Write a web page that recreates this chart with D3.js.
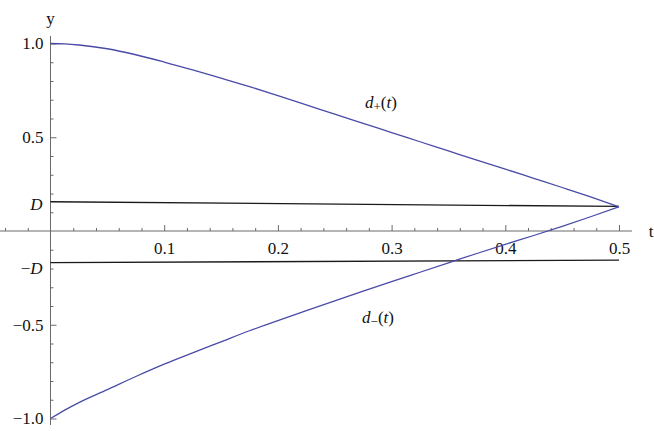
<!DOCTYPE html>
<html>
<head>
<meta charset="utf-8">
<script src="https://cdn.jsdelivr.net/npm/d3@7"></script>
<style>
  body { margin: 0; background: #fff; }
  svg { display: block; }
  text { font-family: "Liberation Serif", "DejaVu Serif", serif; font-size: 17px; fill: #111; }
</style>
</head>
<body>
<svg id="chart" width="654" height="431"></svg>
<script>
/*
 * Data
 */
var T_VALUES = [0, 0.0125, 0.025, 0.05, 0.075, 0.1, 0.125, 0.15, 0.175, 0.2, 0.225, 0.25,
                0.275, 0.3, 0.325, 0.35, 0.375, 0.4, 0.425, 0.45, 0.475, 0.5];
var D_PLUS  = [1.000, 0.998, 0.992, 0.972, 0.940, 0.901, 0.859, 0.815, 0.770, 0.722, 0.673, 0.623,
               0.574, 0.525, 0.476, 0.427, 0.378, 0.330, 0.281, 0.232, 0.182, 0.129];
var D_MINUS = [-1.000, -0.955, -0.915, -0.846, -0.776, -0.710, -0.650, -0.591, -0.532, -0.478, -0.425, -0.373,
               -0.321, -0.270, -0.220, -0.170, -0.120, -0.071, -0.024, 0.025, 0.076, 0.129];
var D_LINE_T     = [0, 0.5];
var D_UPPER      = [0.156, 0.131];
var D_LOWER      = [-0.169, -0.155];

var X_MAJOR = [0.1, 0.2, 0.3, 0.4, 0.5];
var Y_MAJOR = [-1.0, -0.5, 0.5, 1.0];
var D_LABELS = [{ text: 'D', v: 0.142, minus: false }, { text: 'D', v: -0.195, minus: true }];

/*
 * Style / layout
 */
var AXIS_COLOR = '#6a6a6a',
    CURVE_COLOR = '#4a4aa9',
    LINE_COLOR = '#1a1a1a',
    FONT = '"Liberation Serif", "DejaVu Serif", serif',
    FONT_SIZE = 17;

var svg = d3.select('#chart');

var x = d3.scaleLinear().domain([0, 0.5]).range([50.5, 619]);
var y = d3.scaleLinear().domain([-1, 1]).range([418.5, 43.5]);

var X_EXTENT = [x.invert(0), x.invert(632)],
    Y_EXTENT = [y.invert(425), y.invert(36)];

function fmt(d) {
    return d.toFixed(1).replace('-', '\u2212');
}

/*
 * Axes
 */
var xMinor = d3.range(-0.04, 0.501, 0.02).filter(function (d) {
    return Math.abs(d) > 1e-9 && X_MAJOR.every(function (m) { return Math.abs(m - d) > 1e-9; });
});
var yMinor = d3.range(-1.0, 1.001, 0.1).filter(function (d) {
    return Math.abs(d) > 1e-9 && Y_MAJOR.every(function (m) { return Math.abs(m - d) > 1e-9; });
});

var gx = svg.append('g').attr('transform', 'translate(0,' + y(0) + ')');
gx.append('line')
    .attr('x1', x(X_EXTENT[0])).attr('x2', x(X_EXTENT[1]))
    .attr('stroke', AXIS_COLOR);
gx.append('g').call(d3.axisBottom(x).tickValues(xMinor).tickSizeInner(-3).tickSizeOuter(0).tickFormat(''));
gx.append('g').call(d3.axisBottom(x).tickValues(X_MAJOR).tickSizeInner(-6).tickSizeOuter(0)
    .tickPadding(11).tickFormat(fmt));

var gy = svg.append('g').attr('transform', 'translate(' + x(0) + ',0)');
gy.append('line')
    .attr('y1', y(Y_EXTENT[0])).attr('y2', y(Y_EXTENT[1]))
    .attr('stroke', AXIS_COLOR);
gy.append('g').call(d3.axisLeft(y).tickValues(yMinor).tickSizeInner(-3).tickSizeOuter(0).tickFormat(''));
gy.append('g').call(d3.axisLeft(y).tickValues(Y_MAJOR).tickSizeInner(-6).tickSizeOuter(0)
    .tickPadding(7).tickFormat(fmt));

svg.selectAll('.domain').remove();
svg.selectAll('g').attr('font-family', FONT).attr('font-size', FONT_SIZE);
svg.selectAll('.tick line').attr('stroke', AXIS_COLOR);
svg.selectAll('.tick text').attr('fill', '#111');

// D and -D labels on the y axis
D_LABELS.forEach(function (d) {
    var t = svg.append('text')
        .attr('x', x(0) - 8)
        .attr('y', y(d.v))
        .attr('dy', '0.35em')
        .attr('text-anchor', 'end');
    if (d.minus) t.append('tspan').text('\u2212');
    t.append('tspan').attr('font-style', 'italic').text(d.text);
});

// axis names
svg.append('text')
    .attr('x', x(X_EXTENT[1]) + 19).attr('y', y(0))
    .attr('dy', '0.35em').attr('text-anchor', 'middle')
    .text('t');
svg.append('text')
    .attr('x', x(0)).attr('y', y(Y_EXTENT[1]) - 24)
    .attr('dy', '0.71em').attr('text-anchor', 'middle')
    .text('y');

/*
 * Lines
 */
var line = d3.line()
    .x(function (d) { return x(d[0]); })
    .y(function (d) { return y(d[1]); });

[D_UPPER, D_LOWER].forEach(function (vals) {
    svg.append('path')
        .datum(d3.zip(D_LINE_T, vals))
        .attr('d', line)
        .attr('fill', 'none')
        .attr('stroke', LINE_COLOR)
        .attr('stroke-width', 1.3);
});

var curve = d3.line()
    .curve(d3.curveMonotoneX)
    .x(function (d) { return x(d[0]); })
    .y(function (d) { return y(d[1]); });

[D_PLUS, D_MINUS].forEach(function (vals) {
    svg.append('path')
        .datum(d3.zip(T_VALUES, vals))
        .attr('d', curve)
        .attr('fill', 'none')
        .attr('stroke', CURVE_COLOR)
        .attr('stroke-width', 1.3);
});

/*
 * Curve labels
 */
function curveLabel(t, v, sub) {
    var txt = svg.append('text').attr('x', x(t)).attr('y', y(v));
    txt.append('tspan').attr('font-style', 'italic').text('d');
    txt.append('tspan').attr('font-size', 13).attr('dy', 3).text(sub);
    txt.append('tspan').attr('dy', -3).text('(');
    txt.append('tspan').attr('font-style', 'italic').text('t');
    txt.append('tspan').text(')');
}
curveLabel(0.2766, 0.656, '+');
curveLabel(0.274, -0.493, '\u2212');
</script>
</body>
</html>
